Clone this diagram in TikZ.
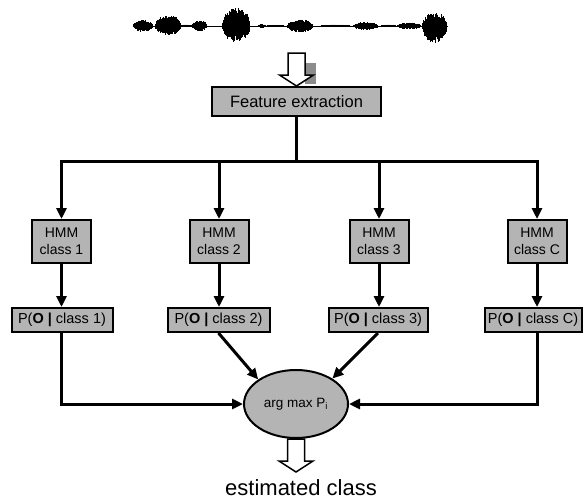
\documentclass[tikz,border=0pt]{standalone}
\usepackage{fontspec}
\setmainfont{Liberation Sans}
\usetikzlibrary{arrows.meta,shapes.geometric}
\definecolor{boxgray}{RGB}{180,180,180}
\definecolor{shadowgray}{RGB}{140,140,140}
\begin{document}
\begin{tikzpicture}[x=1pt,y=-1pt,
  box/.style={draw=black, line width=2pt, fill=boxgray, inner sep=0pt, align=center},
  hmmbox/.style={box, minimum width=59pt, minimum height=43pt, font=\fontsize{14}{17}\selectfont},
  pbox/.style={box, minimum height=24pt, font=\fontsize{14.5}{17}\selectfont},
  arr/.style={line width=3pt, -{Triangle[length=11pt,width=10pt]}},
  conn/.style={line width=3pt},
  hollow/.pic={\draw[line width=1.5pt, fill=white, line join=miter]
    (-8.5,0) -- (8.5,0) -- (8.5,22) -- (17,22) -- (0,33) -- (-17,22) -- (-8.5,22) -- cycle;},
]
\useasboundingbox (0,0) rectangle (583,499);

% waveform
\draw[line width=1pt] (133,26) -- (448,26);
\pgfmathsetseed{12345}
\foreach \cx/\wx/\ua/\da in {143/10/6/6, 168/13/11/10, 199.5/7.5/5.5/5.5, 236/14/19/16,
  300/13/6.5/6.5, 365.5/12.5/4/4, 409/12/3.5/3.5, 434.5/12.5/14/17,
  262/4/2/2, 335/16/1.5/1.5, 186/6/1.5/1.5, 275/10/1.2/1.2, 388/8/1.5/1.5}{
  \pgfmathtruncatemacro\nk{4*\wx}
  \foreach \k in {0,...,\nk}{
    \pgfmathsetmacro\xx{\cx-\wx+\k*0.5}
    \pgfmathsetmacro\uu{(\xx-\cx)/\wx}
    \pgfmathsetmacro\sv{sqrt(max(0,1-(\uu)*(\uu)))}
    \pgfmathsetmacro\yt{26-\ua*\sv*(0.6+0.4*rnd)}
    \pgfmathsetmacro\yb{26+\da*\sv*(0.6+0.4*rnd)}
    \draw[line width=0.7pt] (\xx,\yt) -- (\xx,\yb);
  }
}

% nodes
\node[box, minimum width=169pt, minimum height=29pt, font=\fontsize{16.5}{19}\selectfont] (fe) at (296.5,101.5) {Feature extraction};

\node[hmmbox] (h1) at (61.5,241.5) {HMM\\class 1};
\node[hmmbox] (h2) at (219,241.5) {HMM\\class 2};
\node[hmmbox] (h3) at (379,241.5) {HMM\\class 3};
\node[hmmbox] (hC) at (537,241.5) {HMM\\class C};

\node[pbox, minimum width=101pt] (p1) at (62,320) {P(\textbf{O |} class 1)};
\node[pbox, minimum width=102pt] (p2) at (218.5,320) {P(\textbf{O |} class 2)};
\node[pbox, minimum width=99pt] (p3) at (378,320) {P(\textbf{O |} class 3)};
\node[pbox, minimum width=97pt] (pC) at (533,320) {P(\textbf{O |} class C)};

\node[draw=black, line width=2pt, fill=boxgray, ellipse, minimum width=104pt, minimum height=68pt,
  inner sep=0pt, font=\fontsize{13.5}{16}\selectfont] (e) at (296,404) {arg max P\textsubscript{i}};

\node[font=\fontsize{22}{26}\selectfont, inner sep=0pt] (out) at (301,488) {estimated class};

% hollow arrows
\fill[shadowgray] (305,63) rectangle (316,84);
\path ([yshift=33pt]fe.north) pic {hollow};
\path (e.south) pic {hollow};

% connectors
\coordinate (bar) at (296.5,161);
\draw[conn] (fe.south) -- (bar);
\draw[arr] (bar) -| (h1);
\draw[arr] (bar) -| (hC);
\draw[arr] (h2 |- bar) -- (h2);
\draw[arr] (h3 |- bar) -- (h3);

\draw[arr] (h1) -- (h1 |- p1.north);
\draw[arr] (h2) -- (h2 |- p2.north);
\draw[arr] (h3) -- (h3 |- p3.north);
\draw[arr] (hC) -- (hC |- pC.north);

\draw[arr] (p1.south -| h1) |- (e);
\draw[arr] (pC.south -| hC) |- (e);
\draw[arr] (p2.south) -- (e.147);
\draw[arr] (p3.south) -- (e.35);
\end{tikzpicture}
\end{document}
